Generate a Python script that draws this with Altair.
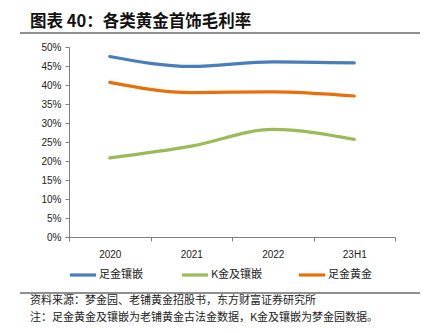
import altair as alt
import pandas as pd

periods = ["2020", "2021", "2022", "23H1"]
series_names = ["足金镶嵌", "K金及镶嵌", "足金黄金"]
s_inlay = [47.5, 44.9, 46.1, 45.8]
s_kgold = [20.8, 23.9, 28.3, 25.7]
s_pure = [40.7, 38.0, 38.2, 37.1]
colors = ["#4A7EBB", "#9BBB59", "#E8700A"]
y_ticks = [0, 5, 10, 15, 20, 25, 30, 35, 40, 45, 50]

title_text = "图表 40：各类黄金首饰毛利率"
source_text = "资料来源：梦金园、老铺黄金招股书，东方财富证券研究所"
note_text = "注：足金黄金及镶嵌为老铺黄金古法金数据，K金及镶嵌为梦金园数据。"

rows = []
for name, vals in zip(series_names, [s_inlay, s_kgold, s_pure]):
    for p, v in zip(periods, vals):
        rows.append({"period": p, "series": name, "value": v / 100})
df = pd.DataFrame(rows)

# legend layout (pixel offsets from plot origin)
leg_x0 = [1, 113, 230]
legend_df = pd.DataFrame({
    "series": series_names,
    "x0": leg_x0,
    "x1": [x + 26 for x in leg_x0],
    "xt": [x + 29 for x in leg_x0],
})

CJK = "Noto Sans CJK SC"
color_scale = alt.Scale(domain=series_names, range=colors)

lines = alt.Chart(df).mark_line(interpolate="monotone", strokeWidth=3.2, strokeCap="round").encode(
    x=alt.X("period:N", sort=periods, title=None,
            scale=alt.Scale(paddingInner=0, paddingOuter=0),
            axis=alt.Axis(labelAngle=0, tickBand="extent", tickSize=4, domainColor="#7f7f7f",
                          tickColor="#7f7f7f", labelFont="Liberation Sans", labelFontSize=10,
                          labelColor="#222222", labelPadding=8, grid=False)),
    y=alt.Y("value:Q", title=None,
            scale=alt.Scale(domain=[0, 0.5], nice=False),
            axis=alt.Axis(values=[t / 100 for t in y_ticks], format=".0%", tickSize=4,
                          domainColor="#7f7f7f", tickColor="#7f7f7f", labelFont="Liberation Sans",
                          labelFontSize=10, labelColor="#222222", labelPadding=4, grid=False)),
    color=alt.Color("series:N", scale=color_scale, legend=None),
)

leg_lines = alt.Chart(legend_df).mark_rule(strokeWidth=3.2).encode(
    x=alt.X("x0:Q", scale=None), x2="x1:Q", y=alt.value(228),
    color=alt.Color("series:N", scale=color_scale, legend=None),
)
leg_text = alt.Chart(legend_df).mark_text(
    align="left", baseline="middle", font=CJK, fontSize=11, color="#222222"
).encode(x=alt.X("xt:Q", scale=None), y=alt.value(228), text="series:N")

title = alt.Chart(pd.DataFrame({"t": [title_text]})).mark_text(
    align="left", baseline="middle", font=CJK, fontSize=16.5, fontWeight="bold", color="#111111"
).encode(text="t:N", x=alt.value(-39), y=alt.value(-25))

top_rule = alt.Chart(pd.DataFrame({"a": [0]})).mark_rule(color="#222222", strokeWidth=1.2).encode(
    x=alt.value(-49), x2=alt.value(351), y=alt.value(-14))

bottom_rule = alt.Chart(pd.DataFrame({"a": [0]})).mark_rule(color="#222222", strokeWidth=1.2).encode(
    x=alt.value(-49), x2=alt.value(351), y=alt.value(246))

source = alt.Chart(pd.DataFrame({"t": [source_text]})).mark_text(
    align="left", baseline="middle", font=CJK, fontSize=11, color="#222222"
).encode(text="t:N", x=alt.value(-39), y=alt.value(254))

note = alt.Chart(pd.DataFrame({"t": [note_text]})).mark_text(
    align="left", baseline="middle", font=CJK, fontSize=11, color="#222222"
).encode(text="t:N", x=alt.value(-39), y=alt.value(271))

chart = alt.layer(lines, leg_lines, leg_text, title, top_rule, bottom_rule, source, note).properties(
    width=326, height=190,
    padding={"left": 69, "top": 47, "right": 32, "bottom": 96},
    autosize=alt.AutoSizeParams(type="none"),
    background="white",
).configure_view(stroke=None)

chart.save("out.html", embed_options={"renderer": "svg", "actions": False})
